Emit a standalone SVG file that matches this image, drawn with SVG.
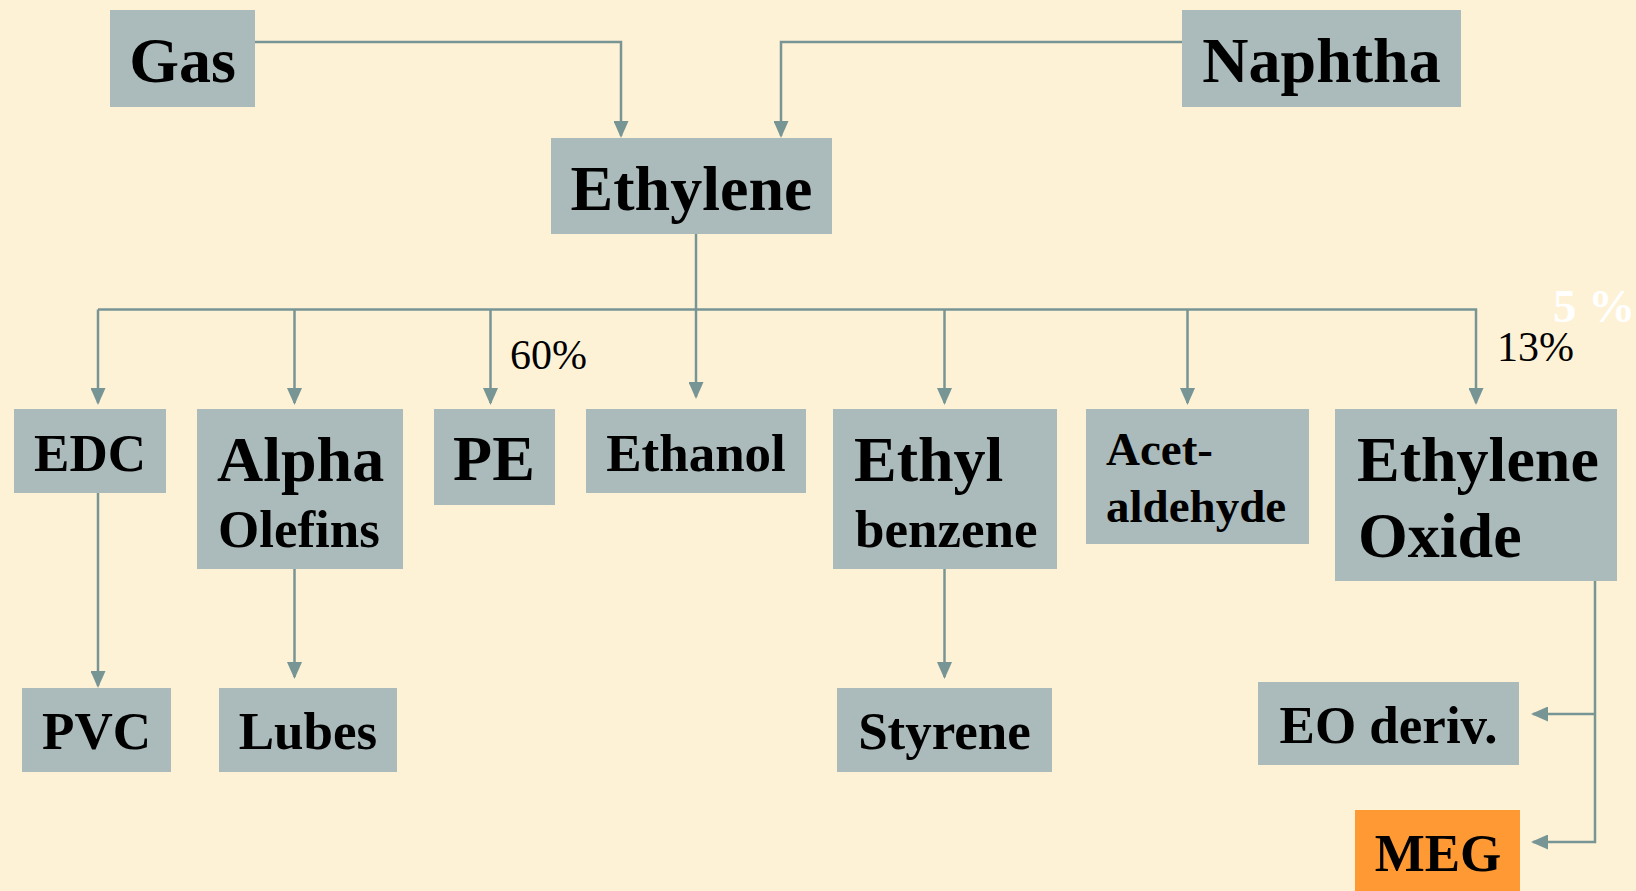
<svg xmlns="http://www.w3.org/2000/svg" width="1636" height="891" viewBox="0 0 1636 891">
<defs>
<style>
.box{fill:#ABBBBB}
.meg{fill:#FF9933}
.t{font-family:"Liberation Serif","Times New Roman",serif;font-weight:bold;fill:#000}
.c{text-anchor:middle}
.l64{font-size:64px}
.l53{font-size:53px}
.l47{font-size:47px}
.pct{font-family:"Liberation Serif","Times New Roman",serif;font-size:42px;fill:#000}
.conn{fill:none;stroke:#789595;stroke-width:2.5}
</style>
<marker id="ah" viewBox="0 0 17 15" refX="15" refY="7.5" markerWidth="17" markerHeight="15" markerUnits="userSpaceOnUse" orient="auto">
<path d="M0,0 L17,7.5 L0,15 z" fill="#789595"/>
</marker>
</defs>
<rect width="1636" height="891" fill="#FEF2D6"/>

<g id="connectors">
<path class="conn" d="M255,42 H621 V136" marker-end="url(#ah)"/>
<path class="conn" d="M1182,42 H781 V136" marker-end="url(#ah)"/>
<path class="conn" d="M696,234 V397" marker-end="url(#ah)"/>
<path class="conn" d="M98,309.5 H1476 V403" marker-end="url(#ah)"/>
<path class="conn" d="M98,309.5 V403" marker-end="url(#ah)"/>
<path class="conn" d="M294.5,309.5 V403" marker-end="url(#ah)"/>
<path class="conn" d="M490.5,309.5 V403" marker-end="url(#ah)"/>
<path class="conn" d="M944.5,309.5 V403" marker-end="url(#ah)"/>
<path class="conn" d="M1187.5,309.5 V403" marker-end="url(#ah)"/>
<path class="conn" d="M98,493 V686" marker-end="url(#ah)"/>
<path class="conn" d="M294.5,569 V677" marker-end="url(#ah)"/>
<path class="conn" d="M944.5,569 V677" marker-end="url(#ah)"/>
<path class="conn" d="M1595,581 V842 H1533" marker-end="url(#ah)"/>
<path class="conn" d="M1595,714 H1533" marker-end="url(#ah)"/>
</g>

<g id="gas"><rect class="box" x="110" y="10" width="145" height="97"/><text class="t l64 c" x="182.5" y="82">Gas</text></g>
<g id="naphtha"><rect class="box" x="1182" y="10" width="279" height="97"/><text class="t l64 c" x="1321.5" y="82">Naphtha</text></g>
<g id="ethylene"><rect class="box" x="551" y="138" width="281" height="96"/><text class="t l64 c" x="691.5" y="210">Ethylene</text></g>

<g id="edc"><rect class="box" x="14" y="409" width="152" height="84"/><text class="t l53 c" x="90" y="471">EDC</text></g>
<g id="alpha-olefins"><rect class="box" x="197" y="409" width="206" height="160"/><text class="t l64" x="217" y="481">Alpha</text><text class="t l53" x="218" y="547">Olefins</text></g>
<g id="pe"><rect class="box" x="434" y="409" width="121" height="96"/><text class="t l64 c" x="494" y="480">PE</text></g>
<g id="ethanol"><rect class="box" x="586" y="409" width="220" height="84"/><text class="t l53 c" x="696" y="471">Ethanol</text></g>
<g id="ethylbenzene"><rect class="box" x="833" y="409" width="224" height="160"/><text class="t l64" x="854" y="481">Ethyl</text><text class="t l53" x="855" y="547">benzene</text></g>
<g id="acetaldehyde"><rect class="box" x="1086" y="409" width="223" height="135"/><text class="t l47" x="1106" y="465">Acet-</text><text class="t l47" x="1106" y="522">aldehyde</text></g>
<g id="ethylene-oxide"><rect class="box" x="1335" y="409" width="282" height="172"/><text class="t l64" x="1357" y="481">Ethylene</text><text class="t l64" x="1358" y="557">Oxide</text></g>

<g id="pvc"><rect class="box" x="22" y="688" width="149" height="84"/><text class="t l53 c" x="96.5" y="749">PVC</text></g>
<g id="lubes"><rect class="box" x="219" y="688" width="178" height="84"/><text class="t l53 c" x="308" y="749">Lubes</text></g>
<g id="styrene"><rect class="box" x="837" y="688" width="215" height="84"/><text class="t l53 c" x="944.5" y="749">Styrene</text></g>
<g id="eo-deriv"><rect class="box" x="1258" y="682" width="261" height="83"/><text class="t l53 c" x="1388.5" y="743">EO deriv.</text></g>
<g id="meg"><rect class="meg" x="1355" y="810" width="165" height="81"/><text class="t l53 c" x="1438" y="871">MEG</text></g>

<g id="labels">
<text class="pct" x="510" y="369">60%</text>
<text class="pct" x="1497" y="361">13%</text>
<text class="t" x="1553" y="322" style="font-size:47px;fill:#FFFFFF">5 %</text>
</g>
</svg>
